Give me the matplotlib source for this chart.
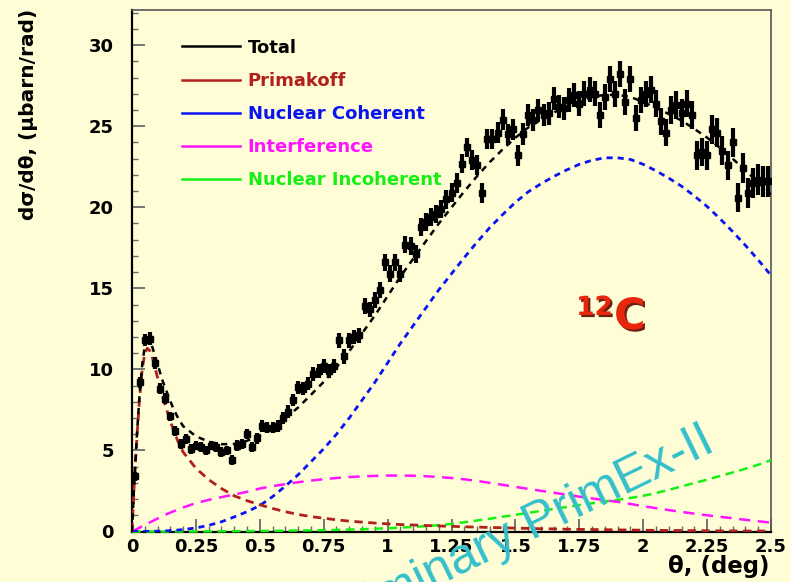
import numpy as np
import matplotlib
matplotlib.use("Agg")
import matplotlib.pyplot as plt
from matplotlib.lines import Line2D
from matplotlib.ticker import MultipleLocator, FixedLocator
import matplotlib.patheffects as pe

# ---------------- data ----------------
theta_data = np.round(np.arange(0.01, 2.5, 0.02), 2)   # bin centres (deg)
xsec_data = [
    3.4, 9.2, 11.8, 11.9, 10.4, 8.8, 8.2, 7.1, 6.2, 5.4,
    5.7, 5.1, 5.3, 5.2, 5.0, 5.3, 5.2, 4.9, 5.0, 4.4,
    5.3, 5.4, 6.0, 5.2, 5.75,
    6.5, 6.4, 6.4, 6.5, 7.0, 7.4, 8.1, 8.9, 8.8, 9.1,
    9.7, 9.9, 10.2, 9.9, 10.2, 11.8, 10.8, 11.8, 12.0, 12.1,
    13.9, 13.7, 14.3, 14.9, 16.6,
    15.9, 16.6, 15.9, 17.7, 17.6, 17.1, 18.8, 19.1, 19.4, 19.6,
    19.9, 20.5, 20.9, 21.5, 22.7, 23.7, 22.9, 22.6, 20.9, 24.2,
    24.2, 24.6, 25.4, 24.5, 24.8,
    23.2, 24.5, 25.7, 25.4, 26.0, 25.7, 25.8, 26.7, 26.2, 26.1,
    26.6, 26.9, 26.4, 27.0, 27.25, 27.0, 25.7, 26.8, 27.9, 27.0,
    28.2, 26.5, 27.9, 25.5, 26.6,
    27.0, 27.25, 26.4, 25.3, 24.6, 26.0, 26.3, 25.8, 26.4, 25.7,
    23.2, 23.4, 23.2, 24.8, 24.6, 23.5, 22.6, 24.0, 20.6, 22.4,
    20.9, 21.5, 21.7, 21.6, 21.6,
]
xsec_err = [
    0.30, 0.35, 0.38, 0.38, 0.35, 0.33, 0.32, 0.30, 0.30, 0.30,
    0.30, 0.30, 0.30, 0.30, 0.30, 0.30, 0.30, 0.30, 0.30, 0.30,
    0.32, 0.32, 0.32, 0.32, 0.33,
    0.35, 0.35, 0.35, 0.36, 0.37, 0.38, 0.38, 0.40, 0.40, 0.40,
    0.42, 0.42, 0.42, 0.43, 0.43, 0.45, 0.45, 0.45, 0.46, 0.46,
    0.48, 0.48, 0.50, 0.50, 0.50,
    0.52, 0.52, 0.53, 0.53, 0.55, 0.55, 0.55, 0.56, 0.56, 0.57,
    0.57, 0.58, 0.58, 0.60, 0.60, 0.60, 0.62, 0.62, 0.62, 0.63,
    0.63, 0.64, 0.65, 0.65, 0.66,
    0.66, 0.67, 0.68, 0.68, 0.70, 0.70, 0.70, 0.72, 0.72, 0.72,
    0.74, 0.74, 0.75, 0.76, 0.76, 0.77, 0.78, 0.78, 0.80, 0.80,
    0.80, 0.80, 0.80, 0.80, 0.80,
    0.82, 0.82, 0.82, 0.83, 0.84, 0.84, 0.85, 0.85, 0.86, 0.86,
    0.87, 0.88, 0.88, 0.89, 0.89, 0.90, 0.90, 0.91, 0.92, 0.92,
    0.93, 0.93, 0.94, 0.94, 0.95,
]

theta_fit = [0.0, 0.01, 0.02, 0.03, 0.04, 0.05, 0.06, 0.07, 0.08, 0.10,
             0.12, 0.14, 0.16, 0.18, 0.20,
             0.25, 0.30, 0.35, 0.40, 0.45, 0.50, 0.55, 0.60, 0.65, 0.70,
             0.75, 0.80, 0.85, 0.90, 0.95, 1.00, 1.05, 1.10, 1.15, 1.20,
             1.25, 1.30, 1.35, 1.40, 1.45, 1.50, 1.55, 1.60, 1.65, 1.70,
             1.75, 1.80, 1.85, 1.90, 1.95, 2.00, 2.05, 2.10, 2.15, 2.20,
             2.25, 2.30, 2.35, 2.40, 2.45, 2.50]
primakoff = [0.0, 3.3, 6.0, 8.3, 10.0, 11.0, 11.3, 11.15, 10.7, 9.5,
             8.3, 7.3, 6.35, 5.55, 4.9,
             3.9, 3.2, 2.65, 2.2, 1.9, 1.65, 1.42, 1.22, 1.05, 0.92,
             0.82, 0.72, 0.64, 0.58, 0.52, 0.47, 0.43, 0.40, 0.37, 0.34,
             0.32, 0.29, 0.27, 0.25, 0.23, 0.21, 0.19, 0.17, 0.16, 0.14,
             0.13, 0.12, 0.11, 0.10, 0.09, 0.08, 0.07, 0.065, 0.06, 0.05,
             0.045, 0.04, 0.035, 0.03, 0.03, 0.025]
nuc_coherent = [0.0, 0.0, 0.0, 0.0, 0.0, 0.005, 0.01, 0.01, 0.015, 0.02,
                0.03, 0.05, 0.07, 0.09, 0.12,
                0.22, 0.38, 0.6, 0.9, 1.22, 1.6, 2.15, 2.8, 3.5, 4.3,
                5.1, 6.0, 7.0, 8.1, 9.2, 10.4, 11.6, 12.7, 13.8, 14.9,
                15.9, 16.9, 17.85, 18.75, 19.55, 20.3, 20.95, 21.45, 21.9, 22.3,
                22.65, 22.9, 23.05, 23.05, 22.95, 22.65, 22.25, 21.8, 21.3, 20.7,
                20.05, 19.3, 18.5, 17.65, 16.75, 15.8]
interference = [0.0, 0.08, 0.16, 0.24, 0.32, 0.4, 0.48, 0.56, 0.64, 0.8,
                0.95, 1.1, 1.23, 1.36, 1.48,
                1.75, 1.95, 2.12, 2.28, 2.45, 2.65, 2.8, 2.92, 3.04, 3.14,
                3.23, 3.3, 3.36, 3.4, 3.43, 3.45, 3.45, 3.44, 3.41, 3.36,
                3.3, 3.22, 3.12, 3.0, 2.88, 2.75, 2.63, 2.51, 2.39, 2.27,
                2.15, 2.04, 1.93, 1.83, 1.7, 1.56, 1.44, 1.32, 1.21, 1.1,
                1.0, 0.91, 0.82, 0.72, 0.63, 0.55]
nuc_incoherent = [0.0, 0.0, 0.0, 0.0, 0.0, 0.0, 0.0, 0.0, 0.0, 0.0,
                  0.0, 0.0, 0.0, 0.0, 0.0,
                  0.005, 0.01, 0.015, 0.02, 0.025, 0.03, 0.04, 0.05, 0.06, 0.07,
                  0.08, 0.1, 0.12, 0.14, 0.17, 0.2, 0.24, 0.28, 0.33, 0.39,
                  0.47, 0.57, 0.68, 0.79, 0.91, 1.03, 1.15, 1.27, 1.39, 1.51,
                  1.63, 1.74, 1.85, 1.95, 2.07, 2.2, 2.37, 2.57, 2.78, 2.99,
                  3.2, 3.42, 3.64, 3.87, 4.12, 4.4]
total = (np.array(primakoff) + np.array(nuc_coherent)
         + np.array(interference) + np.array(nuc_incoherent))

labels = ["Total", "Primakoff", "Nuclear Coherent", "Interference", "Nuclear Incoherent"]
colors = ["#000000", "#B0201C", "#0A14F0", "#FF14FF", "#14F014"]
xticks = [0, 0.25, 0.5, 0.75, 1, 1.25, 1.5, 1.75, 2, 2.25, 2.5]
xticklabels = ["0", "0.25", "0.5", "0.75", "1", "1.25", "1.5", "1.75", "2", "2.25", "2.5"]
yticks = [0, 5, 10, 15, 20, 25, 30]

# ---------------- figure ----------------
BG = "#FFFDD6"
W, H = 790, 582
fig = plt.figure(figsize=(W / 100, H / 100), dpi=100, facecolor=BG)
ax = fig.add_axes([132 / W, 1 - 531.5 / H, (771 - 132) / W, (531.5 - 9.5) / H])
ax.set_facecolor(BG)
ax.set_xlim(0, 2.5)
ax.set_ylim(0, 32.2)

# curves
ax.plot(theta_fit, nuc_incoherent, color=colors[4], lw=1.8, dashes=(3.5, 2.2), zorder=3, clip_on=False)
ax.plot(theta_fit, interference, color=colors[3], lw=1.8, dashes=(4.5, 3.0), zorder=3)
ax.plot(theta_fit, nuc_coherent, color=colors[2], lw=2.0, dashes=(2.2, 1.8), zorder=3)
ax.plot(theta_fit, primakoff, color=colors[1], lw=2.0, dashes=(3.0, 2.0), zorder=3)

# data
ax.errorbar(theta_data, xsec_data, yerr=xsec_err, fmt="s", ms=4.6, color="black",
            mec="black", elinewidth=3.0, capsize=0, zorder=4)
ax.plot(theta_fit, total, color=colors[0], lw=1.8, dashes=(2.5, 2.2), zorder=5)

# axes styling
for s in ["left", "bottom"]:
    ax.spines[s].set_linewidth(1.6)
    ax.spines[s].set_color("black")
for s in ["top", "right"]:
    ax.spines[s].set_linewidth(1.2)
    ax.spines[s].set_color("#555555")

ax.xaxis.set_major_locator(FixedLocator(xticks))
ax.set_xticklabels(xticklabels)
ax.xaxis.set_minor_locator(MultipleLocator(0.05))
ax.yaxis.set_major_locator(FixedLocator(yticks))
ax.yaxis.set_minor_locator(MultipleLocator(1))
tickfont = dict(family="DejaVu Sans", weight="bold", size=13)
for lab in ax.get_xticklabels() + ax.get_yticklabels():
    lab.set_fontproperties(matplotlib.font_manager.FontProperties(**tickfont))
ax.tick_params(axis="both", which="major", direction="in", length=9.5, width=1.3,
               color="#6a6a6a")
ax.tick_params(axis="both", which="minor", direction="in", length=4.5, width=1.0,
               color="#6a6a6a")
ax.tick_params(axis="y", which="major", pad=13)
ax.tick_params(axis="x", which="major", pad=5)

# axis titles
fig.text(29 / W, 1 - 9 / H, "d\u03c3/d\u03b8, (\u03bcbarn/rad)", rotation=90,
         ha="center", va="top", fontsize=14.5, fontweight="bold", family="DejaVu Sans")
fig.text(770 / W, 1 - 573 / H, "\u03b8, (deg)", ha="right", va="baseline",
         fontsize=16.5, fontweight="bold", family="DejaVu Sans")

# legend
handles = [Line2D([], [], color=c, lw=1.8) for c in colors]
leg = ax.legend(handles, labels, loc="upper left", bbox_to_anchor=(0.078, 0.944),
                frameon=False, borderaxespad=0, borderpad=0, handlelength=3.2,
                handletextpad=0.45, labelspacing=0.84,
                prop=dict(family="DejaVu Sans", weight="bold", size=13))
for t, c in zip(leg.get_texts(), colors):
    t.set_color(c)

# 12C label
shadow = [pe.SimplePatchShadow(offset=(1.5, -1.5), shadow_rgbFace="#5a0800", alpha=0.9),
          pe.Normal()]
fig.text(613 / W, 1 - 315 / H, "12", ha="right", va="baseline", fontsize=19,
         fontweight="bold", color="#E8260C", family="DejaVu Sans", path_effects=shadow)
fig.text(614 / W, 1 - 329 / H, "C", ha="left", va="baseline", fontsize=31,
         fontweight="bold", color="#E8260C", family="DejaVu Sans", path_effects=shadow)

# watermark
fig.text(717 / W, 1 - 450 / H, "Preliminary PrimEx-II", ha="right", va="baseline",
         rotation=26, rotation_mode="anchor", fontsize=36, color="#33BFCB",
         family="Liberation Sans", zorder=20)

fig.savefig("out.png", dpi=100, facecolor=BG)
